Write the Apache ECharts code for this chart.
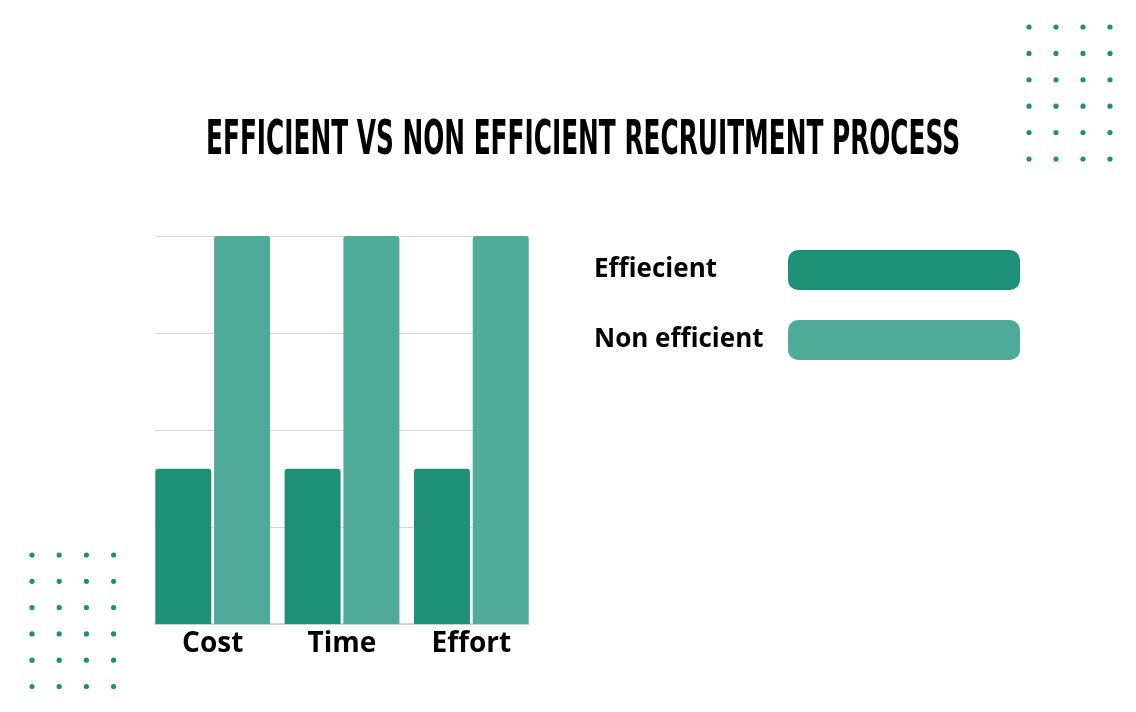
<!DOCTYPE html>
<html>
<head>
<meta charset="utf-8">
<script src="https://cdn.jsdelivr.net/npm/echarts@6/dist/echarts.min.js"></script>
<style>
  html, body { margin: 0; padding: 0; background: #ffffff; }
  #main { width: 1136px; height: 712px; }
</style>
</head>
<body>
<div id="main"></div>
<script>
// ---- data ----
const categories = ['Cost', 'Time', 'Effort'];
const efficientValues = [40, 40, 40];
const nonEfficientValues = [100, 100, 100];
const seriesNames = ['Effiecient', 'Non efficient'];
const titleText = 'EFFICIENT VS NON EFFICIENT RECRUITMENT PROCESS';

// ---- styles ----
const darkGreen = '#1d9076';
const lightGreen = '#50aa98';
const dotColor = '#1f8c8c';

const chart = echarts.init(document.getElementById('main'));

// title font measurement for horizontal compression (condensed display face)
const titleFont = 'bold 48px "DejaVu Sans Condensed", "DejaVu Sans"';
const ctx = document.createElement('canvas').getContext('2d');
ctx.font = titleFont;
const titleW = ctx.measureText(titleText).width;
const titleScale = 754 / titleW;

// decorative dot grids
const dots = [];
function dotGrid(x0, y0, dx, dy, cols, rows) {
  for (let r = 0; r < rows; r++) {
    for (let c = 0; c < cols; c++) {
      dots.push({
        type: 'circle',
        shape: { cx: x0 + c * dx, cy: y0 + r * dy, r: 2.6 },
        style: { fill: dotColor },
        silent: true
      });
    }
  }
}
dotGrid(1029, 27, 27, 26.4, 4, 6);
dotGrid(32, 555, 27.2, 26.3, 4, 6);

const option = {
  backgroundColor: '#ffffff',
  animation: false,
  graphic: [
    {
      type: 'text',
      x: 206,
      y: 142,
      scaleX: titleScale,
      style: {
        text: titleText,
        font: titleFont,
        fill: '#000000',
        align: 'left',
        verticalAlign: 'middle'
      }
    }
  ].concat(dots),
  legend: {
    data: seriesNames,
    orient: 'vertical',
    left: 594,
    top: 250,
    padding: 0,
    align: 'right',
    icon: 'roundRect',
    itemWidth: 232,
    itemHeight: 40,
    itemGap: 30,
    formatter: function (name) { return '{a|' + name + '}'; },
    textStyle: {
      rich: {
        a: {
          width: 189,
          align: 'left',
          fontFamily: '"Open Sans", sans-serif',
          fontWeight: 'bold',
          fontSize: 26,
          color: '#000000'
        }
      }
    }
  },
  grid: [
    { left: 155, right: 607, top: 236, bottom: 88 },
    { left: 148, right: 600, top: 236, bottom: 88 }
  ],
  xAxis: [
    {
      type: 'category',
      gridIndex: 0,
      data: categories,
      axisLine: { show: true, lineStyle: { color: '#c5cccc', width: 1.5 } },
      axisTick: { show: false },
      axisLabel: { show: false },
      splitLine: { show: false }
    },
    {
      type: 'category',
      gridIndex: 1,
      data: categories,
      axisLine: { show: false },
      axisTick: { show: false },
      axisLabel: {
        show: true,
        margin: 6,
        fontFamily: '"Open Sans", sans-serif',
        fontWeight: 'bold',
        fontSize: 28,
        color: '#000000'
      }
    }
  ],
  yAxis: [
    {
      type: 'value',
      gridIndex: 0,
      min: 0,
      max: 100,
      interval: 25,
      axisLine: { show: false },
      axisTick: { show: false },
      axisLabel: { show: false },
      splitLine: { show: true, lineStyle: { color: '#d0d8d8', width: 1 } }
    },
    {
      type: 'value',
      gridIndex: 1,
      min: 0,
      max: 100,
      interval: 25,
      show: false,
      splitLine: { show: false }
    }
  ],
  series: [
    {
      name: seriesNames[0],
      type: 'bar',
      xAxisIndex: 1,
      yAxisIndex: 1,
      data: efficientValues,
      barWidth: 56,
      barGap: '5%',
      itemStyle: { color: darkGreen, borderRadius: [3, 3, 0, 0] }
    },
    {
      name: seriesNames[1],
      type: 'bar',
      xAxisIndex: 1,
      yAxisIndex: 1,
      data: nonEfficientValues,
      barWidth: 56,
      barGap: '5%',
      itemStyle: { color: lightGreen, borderRadius: [3, 3, 0, 0] }
    }
  ]
};

chart.setOption(option);
</script>
</body>
</html>
